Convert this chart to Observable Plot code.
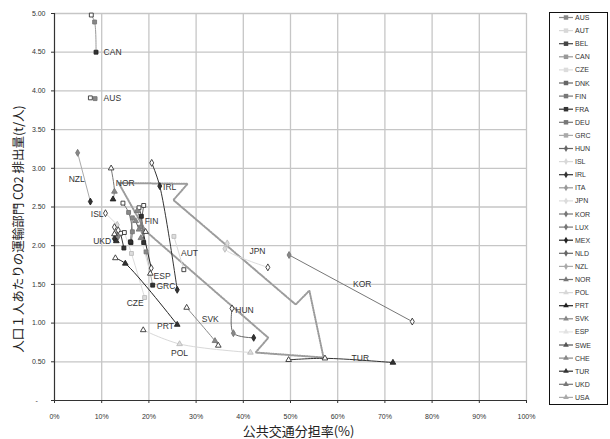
<!DOCTYPE html>
<html><head><meta charset="utf-8">
<script src="https://cdn.jsdelivr.net/npm/d3@7"></script>
<script src="https://cdn.jsdelivr.net/npm/@observablehq/plot@0.6"></script>
<style>
body{margin:0;background:#fff;}
#wrap{position:relative;width:610px;height:439px;font-family:"Liberation Sans",Arial,sans-serif;}
#legend{position:absolute;left:549px;top:12px;}
</style></head><body><div id="wrap"></div>
<script>
// ---- data ----
const countries = ["AUS","AUT","BEL","CAN","CZE","DNK","FIN","FRA","DEU","GRC",
                   "HUN","ISL","IRL","ITA","JPN","KOR","LUX","MEX","NLD","NZL",
                   "NOR","POL","PRT","SVK","ESP","SWE","CHE","TUR","UKD","USA"];
// points per country: [public transport share %, CO2 t/person, stage(0 open,1 gray,2 dark,3 light)]
const AUS = [[7.6,3.91,0],[8.6,3.90,1]];
const AUT = [[25.3,2.12,3],[27.4,1.69,0]];
const BEL = [[17.9,2.49,0],[18.4,2.38,2],[18.9,2.04,2]];
const CAN = [[7.8,4.98,0],[8.5,4.89,1],[8.8,4.50,2]];
const CZE = [[14.8,2.17,0],[16.3,1.90,3],[19.1,1.33,3]];
const DNK = [[18.9,2.52,0],[18.2,2.24,1]];
const FIN = [[14.5,2.55,0],[15.7,2.43,1],[16.5,2.18,1],[16.2,2.04,2]];
const FRA = [[14.0,2.16,0],[14.7,1.97,2]];
const DEU = [[16.5,2.36,1],[16.1,2.05,2]];
const GRC = [[19.4,1.92,1],[20.8,1.49,2]];
const HUN = [[37.6,1.19,0],[37.9,0.87,1],[42.2,0.81,2]];
const ISL = [[10.8,2.42,0],[13.3,2.27,3]];
const IRL = [[20.6,3.07,0],[22.3,2.77,2],[26.0,1.43,2]];
const ITA = [[12.7,2.24,0],[13.5,2.12,1]];
const JPN = [[36.6,2.03,3],[36.1,1.96,3],[45.2,1.72,0]];
const KOR = [[49.7,1.88,1],[75.8,1.02,0]];
const LUX = [];
const MEX = [[18.8,2.17,1],[20.5,1.71,0]];
const NLD = [[13.5,2.20,0],[12.7,2.09,2]];
const NZL = [[4.9,3.20,1],[7.6,2.57,2]];
const NOR = [[12.0,3.00,0],[12.7,2.70,1],[12.4,2.60,2]];
const POL = [[18.8,0.91,0],[26.5,0.73,3],[41.5,0.62,3]];
const PRT = [[12.9,1.84,0],[15.0,1.77,2],[26.0,0.98,2]];
const SVK = [[28.0,1.20,0],[34.0,0.77,1],[34.7,0.71,0]];
const ESP = [[18.3,2.10,1],[20.3,1.64,0]];
const SWE = [[17.2,2.32,1],[17.9,2.21,1]];
const CHE = [[17.5,2.45,1],[19.3,2.18,0]];
const TUR = [[49.6,0.525,0],[57.3,0.545,0],[71.7,0.49,2]];
const UKD = [[12.7,2.15,0],[13.1,2.06,2]];
const USA = [];

// annotation arrow outline (data coordinates)
const arrowX = [13.6,28.2,25.2,51.1,54.0,57.0,42.6,45.3,19.3,13.6];
const arrowY = [2.81,2.80,2.59,1.24,1.42,0.555,0.62,0.81,2.19,2.81];

// country labels in the plot
const labelNames = ["CAN","AUS","NZL","NOR","IRL","ISL","FIN","UKD","AUT","ESP","GRC","CZE","JPN","KOR","HUN","SVK","PRT","POL","TUR"];
const labelX     = [10.4, 10.4, 4.7, 15.0, 23.0, 10.4, 19.1, 12.0, 28.6, 21.0, 21.6, 17.1, 43.0, 65.2, 38.3, 33.0, 25.3, 26.5, 64.8];
const labelY     = [4.50, 3.90, 2.86, 2.81, 2.75, 2.40, 2.31, 2.06, 1.90, 1.61, 1.47, 1.25, 1.93, 1.50, 1.17, 1.05, 0.955, 0.615, 0.545];
const startLabels = ["CAN","AUS","IRL","FIN","ESP","GRC","HUN"];
const endLabels = ["ISL","UKD","PRT"];

const xTitle = "公共交通分担率(%)";
const yTitle = "人口１人あたりの運輸部門 CO2 排出量(t/人)";

// ---- styles ----
const colors = ["#888","#d8d8d8","#444","#999","#dcdcdc","#666","#777","#333","#777","#aaa",
                "#666","#d8d8d8","#333","#999","#dcdcdc","#777","#777","#222","#666","#aaa",
                "#777","#d8d8d8","#222","#888","#e2e2e2","#555","#888","#333","#777","#aaa"];
const shapes = ["square","diamond","triangle"];
const stageFill = ["#fff","#888","#333","#ddd"];
const stageStroke = ["#333","#777","#222","#bbb"];

const series = {AUS,AUT,BEL,CAN,CZE,DNK,FIN,FRA,DEU,GRC,HUN,ISL,IRL,ITA,JPN,KOR,LUX,MEX,NLD,NZL,NOR,POL,PRT,SVK,ESP,SWE,CHE,TUR,UKD,USA};
const rows = [];
countries.forEach((c, i) => series[c].forEach(([x, y, s]) =>
  rows.push({c, x, y, s, shape: shapes[Math.floor(i / 10)], color: colors[i]})));
const arrow = arrowX.map((x, i) => ({x, y: arrowY[i]}));
const labels = labelNames.map((n, i) => ({n, x: labelX[i], y: labelY[i],
  a: startLabels.includes(n) ? "start" : endLabels.includes(n) ? "end" : "middle"}));

const dotMarks = shapes.map(sh => Plot.dot(rows.filter(d => d.shape === sh), {
  x: "x", y: "y", symbol: sh, r: sh === "square" ? 2.2 : 2.1,
  fill: d => stageFill[d.s], stroke: d => stageStroke[d.s], strokeWidth: 0.9
}));

const chart = Plot.plot({
  width: 610, height: 439,
  marginLeft: 54, marginRight: 84, marginTop: 13, marginBottom: 39,
  style: {fontFamily: "'Liberation Sans', Arial, sans-serif", fontSize: "7px", color: "#333", background: "#fff"},
  color: {type: "identity"},
  x: {domain: [0, 100], ticks: 10, tickSize: 3, tickPadding: 11, tickFormat: d => d + "%", label: null},
  y: {domain: [0, 5], ticks: 10, tickSize: 3, tickPadding: 6,
      tickFormat: d => d === 0 ? "-\u2007\u2007" : d.toFixed(2), label: null},
  marks: [
    Plot.ruleX(d3.range(10, 101, 10), {stroke: "#c6c6c6", strokeWidth: 1.3}),
    Plot.ruleY(d3.range(0.5, 5.01, 0.5), {stroke: "#c6c6c6", strokeWidth: 1.3}),
    Plot.line(arrow, {x: "x", y: "y", stroke: "#9c9c9c", strokeWidth: 2, strokeDasharray: "1,1.4"}),
    Plot.line(rows, {x: "x", y: "y", z: "c", stroke: "color", strokeWidth: 1, curve: "catmull-rom"}),
    ...dotMarks,
    ...["start", "middle", "end"].map(a => Plot.text(labels.filter(d => d.a === a), {
      x: "x", y: "y", text: "n", textAnchor: a, fontSize: 8.5, fill: "#333"})),
    Plot.ruleX([0], {stroke: "#333", strokeWidth: 1.2}),
    Plot.ruleY([0], {stroke: "#333", strokeWidth: 1.2}),
    Plot.text([yTitle], {text: d => d, frameAnchor: "left", textAnchor: "middle", dx: -36, dy: 22, rotate: -90,
      fontSize: 12.5, fill: "#222", fontFamily: "'Noto Sans CJK JP', sans-serif"}),
    Plot.text([xTitle], {text: d => d, frameAnchor: "bottom", textAnchor: "middle", lineAnchor: "bottom", dx: 8, dy: 35,
      fontSize: 13, fill: "#222", fontFamily: "'Noto Sans CJK JP', sans-serif"})
  ]
});
const wrap = document.getElementById("wrap");
wrap.appendChild(chart);

// ---- legend ----
const lg = d3.select(wrap).append("svg").attr("id", "legend")
  .attr("width", 59).attr("height", 394)
  .style("font-family", "'Liberation Sans', Arial, sans-serif");
lg.append("rect").attr("x", 0.5).attr("y", 0.5).attr("width", 58).attr("height", 392)
  .attr("fill", "#fff").attr("stroke", "#111");
countries.forEach((c, i) => {
  const y = 5.5 + i * 13.1;
  const g = lg.append("g").attr("transform", `translate(0,${y})`);
  g.append("line").attr("x1", 10).attr("x2", 24).attr("y1", 0).attr("y2", 0)
    .attr("stroke", colors[i]).attr("stroke-width", 1.2);
  const sym = d3.symbol().type(i < 10 ? d3.symbolSquare : i < 20 ? d3.symbolDiamond : d3.symbolTriangle)
    .size(i < 10 ? 20 : 14);
  g.append("path").attr("d", sym()).attr("transform", "translate(17,0)").attr("fill", colors[i]);
  g.append("text").attr("x", 26).attr("y", 2.5).attr("font-size", 7).attr("fill", "#333").text(c);
});
</script></body></html>
